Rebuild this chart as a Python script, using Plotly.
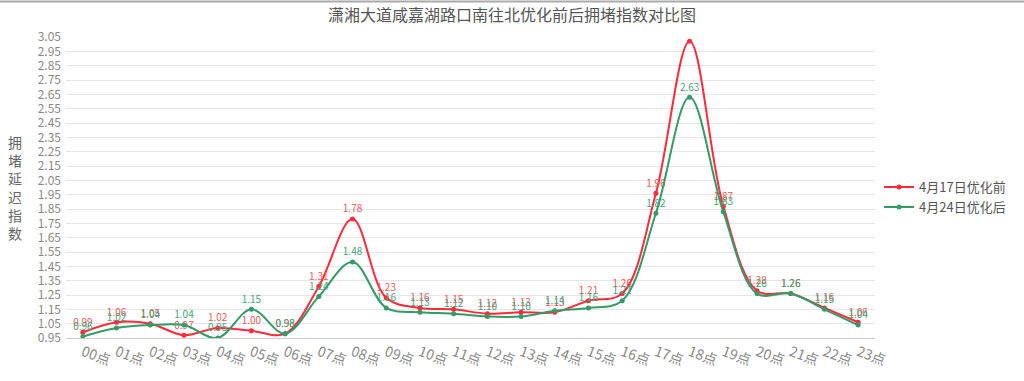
import plotly.graph_objects as go

hours = ["00点", "01点", "02点", "03点", "04点", "05点", "06点", "07点", "08点", "09点", "10点", "11点",
         "12点", "13点", "14点", "15点", "16点", "17点", "18点", "19点", "20点", "21点", "22点", "23点"]
before_0417 = [0.99, 1.06, 1.05, 0.97, 1.02, 1.00, 0.98, 1.31, 1.78, 1.23, 1.16, 1.15,
               1.12, 1.13, 1.13, 1.21, 1.26, 1.96, 3.02, 1.87, 1.28, 1.26, 1.16, 1.06]
after_0424 = [0.96, 1.02, 1.04, 1.04, 0.95, 1.15, 0.98, 1.24, 1.48, 1.16, 1.13, 1.12,
              1.10, 1.10, 1.14, 1.16, 1.21, 1.82, 2.63, 1.83, 1.26, 1.26, 1.15, 1.04]
y_ticks = [round(0.95 + 0.1 * i, 2) for i in range(22)]

red = "#ff2a3a"
green = "#349a68"

fig = go.Figure()
fig.add_trace(go.Scatter(
    x=hours, y=before_0417, name="4月17日优化前",
    mode="lines+markers+text",
    line=dict(color=red, width=2, shape="spline", smoothing=1.0),
    marker=dict(color=red, size=5),
    text=[f"{v:.2f}" for v in before_0417], textposition="top center",
    textfont=dict(color="#f05a5a", size=10),
))
fig.add_trace(go.Scatter(
    x=hours, y=after_0424, name="4月24日优化后",
    mode="lines+markers+text",
    line=dict(color=green, width=2, shape="spline", smoothing=1.0),
    marker=dict(color=green, size=5),
    text=[f"{v:.2f}" for v in after_0424], textposition="top center",
    textfont=dict(color="#3fa57a", size=10),
))

fig.update_layout(
    width=1024, height=381,
    margin=dict(l=66, r=149, t=37, b=34),
    paper_bgcolor="white", plot_bgcolor="white",
    font=dict(family="Noto Sans CJK SC", color="#777"),
    title=dict(text="潇湘大道咸嘉湖路口南往北优化前后拥堵指数对比图", x=0.5, xanchor="center",
               y=1 - 15 / 381, yanchor="middle", font=dict(size=16, color="#555")),
    showlegend=True,
    legend=dict(x=1.005, xanchor="left", y=0.468, yanchor="middle",
                font=dict(size=13, color="#555"), bgcolor="rgba(0,0,0,0)",
                tracegroupgap=2),
    xaxis=dict(type="category", range=[-0.5, 23.5], showgrid=False,
               showline=True, linecolor="#cccccc", ticks="", tickangle=20,
               tickfont=dict(size=14, color="#888")),
    yaxis=dict(range=[0.95, 3.05], tickvals=y_ticks, ticktext=[f"{v:.2f}" for v in y_ticks],
               showgrid=True, gridcolor="#e6e6e6", zeroline=False,
               tickfont=dict(size=12, color="#888"), ticks="", ticklabelstandoff=4),
    annotations=[dict(text="拥<br>堵<br>延<br>迟<br>指<br>数", xref="paper", yref="paper",
                      x=-51 / 809, y=(347 - 192) / 310, xanchor="center", yanchor="middle",
                      showarrow=False, font=dict(size=14, color="#666"))],
    shapes=[dict(type="line", xref="paper", yref="paper", x0=-66 / 809, x1=(1024 - 66) / 809,
                 y0=1 + 36.5 / 310, y1=1 + 36.5 / 310, line=dict(color="#aaaaaa", width=2))],
)

fig.write_html("out.html")
